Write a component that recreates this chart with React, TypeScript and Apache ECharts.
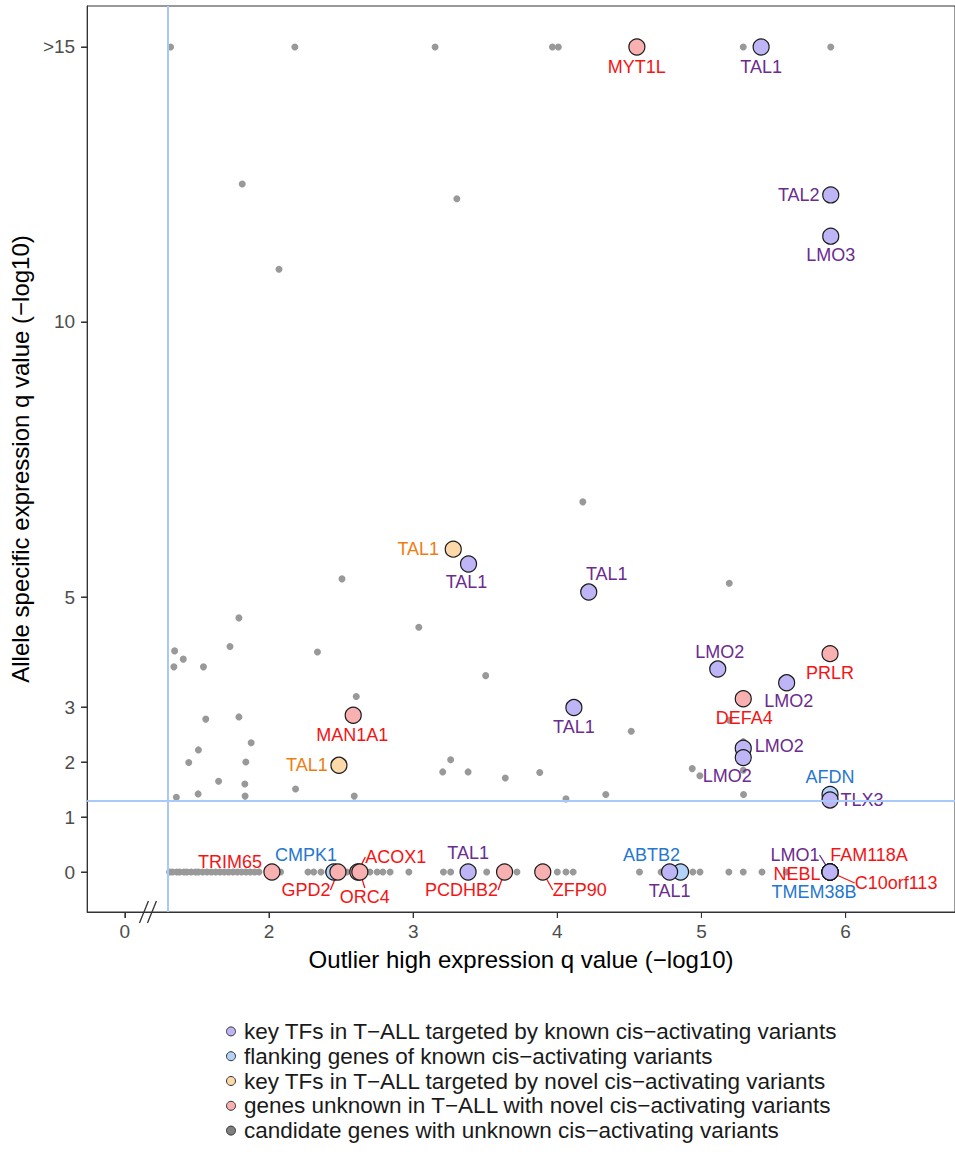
import React, { useEffect, useRef } from "react";
import * as echarts from "echarts";

const FONT = "'Liberation Sans', Arial, Helvetica, sans-serif";

// Series names (legend)
const NAME_KNOWN = "key TFs in T\u2212ALL targeted by known cis\u2212activating variants";
const NAME_FLANK = "flanking genes of known cis\u2212activating variants";
const NAME_NOVEL = "key TFs in T\u2212ALL targeted by novel cis\u2212activating variants";
const NAME_UNKNOWN = "genes unknown in T\u2212ALL with novel cis\u2212activating variants";
const NAME_CAND = "candidate genes with unknown cis\u2212activating variants";

// Axis ticks
const xTickValues = [1, 2, 3, 4, 5, 6];
const xTickLabels = ["0", "2", "3", "4", "5", "6"];
const yTickValues = [0, 1, 2, 3, 5, 10, 15];
const yTickLabels = ["0", "1", "2", "3", "5", "10", ">15"];
const threshold = 1.3;
const X_MIN = 0.738;
const X_MAX = 6.759;
const Y_MIN = -0.727;
const Y_MAX = 15.745;

// [x, y, gene]
const keyKnown: [number, number, string][] = [
  [5.414, 15, "TAL1"],
  [5.897, 12.31, "TAL2"],
  [5.897, 11.56, "LMO3"],
  [3.384, 5.6, "TAL1"],
  [4.218, 5.09, "TAL1"],
  [5.113, 3.69, "LMO2"],
  [5.591, 3.44, "LMO2"],
  [4.115, 2.99, "TAL1"],
  [5.29, 2.25, "LMO2"],
  [5.29, 2.08, "LMO2"],
  [5.892, 1.31, "TLX3"],
  [3.381, 0, "TAL1"],
  [4.779, 0, "TAL1"],
  [5.892, 0, "LMO1"],
];
const flanking: [number, number, string][] = [
  [5.892, 1.41, "AFDN"],
  [2.45, 0, "CMPK1"],
  [4.855, 0, "ABTB2"],
  [5.892, 0, "TMEM38B"],
];
const novelKey: [number, number, string][] = [
  [3.278, 5.87, "TAL1"],
  [2.485, 1.94, "TAL1"],
];
const unknownGenes: [number, number, string][] = [
  [4.552, 15, "MYT1L"],
  [5.892, 3.97, "PRLR"],
  [5.29, 3.15, "DEFA4"],
  [2.584, 2.85, "MAN1A1"],
  [2.02, 0, "TRIM65"],
  [2.478, 0, "GPD2"],
  [2.616, 0, "ACOX1"],
  [2.63, 0, "ORC4"],
  [3.634, 0, "PCDHB2"],
  [3.899, 0, "ZFP90"],
  [5.892, 0, "FAM118A"],
  [5.892, 0, "NEBL"],
  [5.892, 0, "C10orf113"],
];
const candidates: [number, number][] = [
  [1.317, 15], [2.179, 15], [3.152, 15], [3.966, 15], [4.007, 15], [5.29, 15], [5.897, 15],
  [1.814, 12.51], [3.303, 12.24], [2.069, 10.96],
  [4.177, 6.73], [2.506, 5.33], [5.193, 5.25], [1.791, 4.62], [3.039, 4.45], [1.729, 4.1],
  [1.345, 4.02], [2.336, 4.0], [1.405, 3.87], [1.34, 3.73], [1.545, 3.73], [3.503, 3.57],
  [2.605, 3.19], [1.561, 2.78], [1.791, 2.82], [5.193, 2.76], [4.513, 2.56], [1.876, 2.35],
  [5.29, 2.37], [1.51, 2.22], [1.443, 1.99], [1.839, 2.0], [3.26, 2.04], [4.936, 1.88],
  [3.205, 1.82], [3.381, 1.82], [3.878, 1.81], [4.989, 1.75], [3.639, 1.71], [5.29, 1.85],
  [1.65, 1.65], [1.832, 1.6], [2.184, 1.51], [1.508, 1.42], [4.336, 1.41], [5.292, 1.41],
  [1.357, 1.36], [1.834, 1.38], [2.591, 1.38], [4.06, 1.33],
];
const candidatesZeroX: number[] = [
  1.31, 1.33, 1.36, 1.38, 1.41, 1.43, 1.46, 1.49, 1.51, 1.54, 1.57, 1.6, 1.63, 1.66, 1.69,
  1.72, 1.75, 1.78, 1.81, 1.84, 1.87, 1.9, 1.93, 2.08, 2.27, 2.31, 2.36, 2.41, 2.54, 2.7,
  2.75, 2.79, 2.84, 2.97, 3.21, 3.26, 3.51, 3.72, 4.0, 4.06, 4.11, 4.57, 4.72, 4.94, 4.99,
  5.19, 5.29, 5.42, 5.59,
];

// label placement (pixel offsets of label centre from point; third = leader line)
const keyKnownLabelPos: [number, number, boolean][] = [
  [0, 20, false], [-32, 0, false], [0, 19, false], [-2, 18, false], [18, -18, false],
  [2, -17, false], [2, 18, false], [0, 19, false], [36, -2, false], [-16, 18, false],
  [32, 0, false], [0, -19, false], [0, 19, false], [-35, -17, true],
];
const flankingLabelPos: [number, number, boolean][] = [
  [0, -17, false], [-28, -17, false], [-29, -17, false], [-16, 20, false],
];
const novelKeyLabelPos: [number, number, boolean][] = [
  [-35, 0, false], [-32, 0, false],
];
const unknownLabelPos: [number, number, boolean][] = [
  [0, 20, false], [0, 19, false], [1, 19, false], [-1, 20, false], [-42, -10, false],
  [-32, 18, true], [38, -15, true], [5, 25, true], [-43, 18, true], [37, 18, true],
  [39, -17, false], [-33, 2, false], [66, 11, true],
];

const COLORS = {
  known: { fill: "#bdb5f6", text: "#6a2c90" },
  flank: { fill: "#b3d2f7", text: "#2577d0" },
  novel: { fill: "#fbd9a8", text: "#f07d12" },
  unknown: { fill: "#f8b0b0", text: "#f51414" },
};

function labelledSeries(
  name: string,
  pts: [number, number, string][],
  pos: [number, number, boolean][],
  fill: string,
  textColor: string
) {
  return {
    type: "scatter",
    name,
    symbol: "circle",
    symbolSize: 16,
    itemStyle: { color: fill, borderColor: "#1a1a1a", borderWidth: 1.2, opacity: 1 },
    data: pts.map((p, i) => ({
      value: [p[0], p[1]],
      name: p[2],
      labelLine: { show: pos[i][2] },
    })),
    label: {
      show: true,
      position: "inside",
      formatter: "{b}",
      color: textColor,
      fontSize: 18,
      lineHeight: 14,
      fontFamily: FONT,
    },
    labelLine: { show: false, lineStyle: { color: textColor, width: 1.3 } },
    labelLayout: (p: any) => ({ dx: pos[p.dataIndex][0], dy: pos[p.dataIndex][1] }),
    emphasis: { disabled: true },
  };
}

export default function App() {
  const ref = useRef<HTMLDivElement>(null);
  useEffect(() => {
    if (!ref.current) return;
    const chart = echarts.init(ref.current, null, { renderer: "svg" });
    const candData = [
      ...candidates.map((c) => [c[0], c[1]]),
      ...candidatesZeroX.map((x) => [x, 0]),
    ];
    const legendItem = (name: string, color: string) => ({
      name,
      icon: "circle",
      itemStyle: { color, borderColor: "#333", borderWidth: 1 },
    });
    const axisLine = { show: true, onZero: false, lineStyle: { color: "#333333", width: 1 } };
    chart.setOption({
      animation: false,
      grid: {
        left: 84.5,
        top: 6,
        right: -3,
        bottom: 245,
        show: true,
        borderColor: "#333333",
        borderWidth: 1,
        backgroundColor: "#ffffff",
      },
      xAxis: {
        type: "value",
        min: X_MIN,
        max: X_MAX,
        name: "Outlier high expression q value (\u2212log10)",
        nameLocation: "middle",
        nameGap: 35,
        nameTextStyle: { fontFamily: FONT, fontSize: 24, color: "#000" },
        axisLine,
        axisTick: {
          show: true,
          customValues: xTickValues,
          length: 6,
          lineStyle: { color: "#333333", width: 1 },
        },
        axisLabel: {
          customValues: xTickValues,
          formatter: (v: number) => xTickLabels[xTickValues.indexOf(v)] ?? "",
          fontFamily: FONT,
          fontSize: 19,
          color: "#4d4d4d",
          margin: 10,
        },
        splitLine: { show: false },
      },
      yAxis: {
        type: "value",
        min: Y_MIN,
        max: Y_MAX,
        name: "Allele specific expression q value (\u2212log10)",
        nameLocation: "middle",
        nameGap: 46,
        nameTextStyle: { fontFamily: FONT, fontSize: 24, color: "#000" },
        axisLine,
        axisTick: {
          show: true,
          customValues: yTickValues,
          length: 6,
          lineStyle: { color: "#333333", width: 1 },
        },
        axisLabel: {
          customValues: yTickValues,
          formatter: (v: number) => yTickLabels[yTickValues.indexOf(v)] ?? "",
          fontFamily: FONT,
          fontSize: 19,
          color: "#4d4d4d",
          margin: 12,
        },
        splitLine: { show: false },
      },
      legend: {
        orient: "vertical",
        left: 226,
        top: 1019,
        padding: 0,
        itemWidth: 16,
        itemHeight: 9,
        itemGap: 0,
        selectedMode: false,
        textStyle: { fontFamily: FONT, fontSize: 22.5, color: "#1a1a1a", lineHeight: 24.8 },
        data: [
          legendItem(NAME_KNOWN, COLORS.known.fill),
          legendItem(NAME_FLANK, COLORS.flank.fill),
          legendItem(NAME_NOVEL, COLORS.novel.fill),
          legendItem(NAME_UNKNOWN, COLORS.unknown.fill),
          legendItem(NAME_CAND, "#7f7f7f"),
        ],
      },
      series: [
        {
          type: "scatter",
          name: NAME_CAND,
          symbol: "circle",
          symbolSize: 7,
          itemStyle: { color: "#999999", opacity: 1 },
          data: candData,
          emphasis: { disabled: true },
          markLine: {
            silent: true,
            symbol: ["none", "none"],
            label: { show: false },
            lineStyle: { color: "#a9c9fa", width: 2, type: "solid" },
            data: [{ xAxis: threshold }, { yAxis: threshold }],
          },
        },
        labelledSeries(NAME_FLANK, flanking, flankingLabelPos, COLORS.flank.fill, COLORS.flank.text),
        labelledSeries(NAME_NOVEL, novelKey, novelKeyLabelPos, COLORS.novel.fill, COLORS.novel.text),
        labelledSeries(NAME_UNKNOWN, unknownGenes, unknownLabelPos, COLORS.unknown.fill, COLORS.unknown.text),
        labelledSeries(NAME_KNOWN, keyKnown, keyKnownLabelPos, COLORS.known.fill, COLORS.known.text),
      ],
    });
    // tick marks (outside) and axis-break mark "//", placed through the axes' own scales
    const corner = chart.convertToPixel({ gridIndex: 0 }, [X_MIN, Y_MIN]) as number[];
    const graphics: any[] = [];
    if (corner) {
      const left = corner[0];
      const bottom = corner[1];
      const tickStyle = { stroke: "#333333", lineWidth: 1.1 };
      xTickValues.forEach((v) => {
        const px = (chart.convertToPixel({ gridIndex: 0 }, [v, Y_MIN]) as number[])[0];
        graphics.push({
          type: "line",
          shape: { x1: px, y1: bottom, x2: px, y2: bottom + 6 },
          style: tickStyle,
          z: 10,
        });
      });
      yTickValues.forEach((v) => {
        const py = (chart.convertToPixel({ gridIndex: 0 }, [X_MIN, v]) as number[])[1];
        graphics.push({
          type: "line",
          shape: { x1: left - 6, y1: py, x2: left, y2: py },
          style: tickStyle,
          z: 10,
        });
      });
      const bx = (chart.convertToPixel({ gridIndex: 0 }, [1.16, Y_MIN]) as number[])[0];
      [-4, 4].forEach((ox) => {
        graphics.push({
          type: "line",
          shape: { x1: bx + ox - 4.5, y1: bottom + 11, x2: bx + ox + 4.5, y2: bottom - 11 },
          style: { stroke: "#333333", lineWidth: 1.3 },
          z: 10,
        });
      });
      chart.setOption({ graphic: graphics });
    }
    return () => chart.dispose();
  }, []);
  return (
    <div
      ref={ref}
      style={{ position: "absolute", left: 0, top: 0, width: 955, height: 1157, background: "#fff" }}
    />
  );
}
